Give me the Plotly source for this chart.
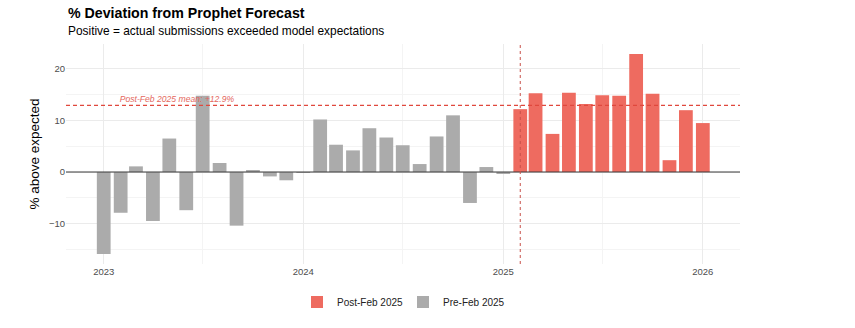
import plotly.graph_objects as go
import pandas as pd

months = pd.date_range("2023-01-01", "2026-01-01", freq="MS")
deviation = [
    -15.9, -7.9, 1.1, -9.5, 6.5, -7.4, 14.8, 1.75, -10.4, 0.4, -0.85, -1.6,
    -0.15, 10.2, 5.3, 4.2, 8.5, 6.7, 5.2, 1.55, 6.9, 11.0, -6.0, 0.97,
    -0.2, 12.2, 15.3, 7.4, 15.4, 13.2, 14.9, 14.8, 22.9, 15.2, 2.3, 12.0,
    9.5,
]
cutoff = pd.Timestamp("2025-02-01")
period = ["Post-Feb 2025" if m >= cutoff else "Pre-Feb 2025" for m in months]
post_vals = [v for v, p in zip(deviation, period) if p == "Post-Feb 2025"]
post_mean = sum(post_vals) / len(post_vals)

RED = "#EE6B60"
GREY = "#ABABAB"
bar_width_ms = 25.2 * 86400000

fig = go.Figure()

# annotation text first so bars draw on top of it
fig.add_trace(go.Scatter(
    x=[pd.Timestamp("2023-05-15")], y=[post_mean + 1.05],
    mode="text", text=[f"Post-Feb 2025 mean: +{post_mean:.1f}%"],
    textfont=dict(size=8.6, color="#E4675D", family="Liberation Sans", style="italic"),
    showlegend=False, hoverinfo="skip",
))

for name, color in [("Post-Feb 2025", RED), ("Pre-Feb 2025", GREY)]:
    xs = [m for m, p in zip(months, period) if p == name]
    ys = [v for v, p in zip(deviation, period) if p == name]
    fig.add_trace(go.Bar(
        x=xs, y=ys, name=name, marker=dict(color=color, line=dict(width=0)),
        width=bar_width_ms,
    ))

# reference lines
fig.add_shape(type="line", xref="x domain", yref="y", x0=0, x1=1, y0=0, y1=0,
              line=dict(color="#3A3A3A", width=1.1))
fig.add_shape(type="line", xref="x domain", yref="y", x0=0, x1=1,
              y0=post_mean, y1=post_mean,
              line=dict(color="#E0483D", width=1.2, dash="4px,3px"))
fig.add_shape(type="line", xref="x", yref="y domain", x0=cutoff, x1=cutoff,
              y0=0, y1=1, line=dict(color="#C8504A", width=1, dash="3px,3px"))

fig.add_annotation(text="<b>% Deviation from Prophet Forecast</b>", xref="paper", yref="paper",
                   x=0, y=1.141, xanchor="left", yanchor="middle", showarrow=False,
                   font=dict(size=14.2, color="#000000", family="Liberation Sans"))
fig.add_annotation(text="Positive = actual submissions exceeded model expectations",
                   xref="paper", yref="paper", x=0, y=1.059, xanchor="left",
                   yanchor="middle", showarrow=False,
                   font=dict(size=11.9, color="#000000", family="Liberation Sans"))

fig.update_layout(
    width=855, height=328,
    margin=dict(l=66, r=115, t=44, b=64),
    plot_bgcolor="white", paper_bgcolor="white",
    font=dict(family="Liberation Sans", color="#4D4D4D"),
    barmode="overlay",
    showlegend=True,
    legend=dict(orientation="h", x=0.5, xanchor="center", y=-0.173, yanchor="middle",
                font=dict(size=10, color="#222222"), itemsizing="constant",
                entrywidth=61, entrywidthmode="pixels"),
)
fig.update_xaxes(
    range=[pd.Timestamp("2022-10-24"), pd.Timestamp("2026-03-10")],
    tickvals=[pd.Timestamp(f"{y}-01-01") for y in range(2023, 2027)],
    ticktext=["2023", "2024", "2025", "2026"],
    showgrid=True, gridcolor="#EBEBEB", gridwidth=1,
    minor=dict(showgrid=True, gridcolor="#F4F4F4", gridwidth=0.6,
               tickvals=[pd.Timestamp(f"{y}-07-01") for y in range(2022, 2026)]),
    zeroline=False, showline=False, ticks="",
    tickfont=dict(size=9.5, color="#4D4D4D"),
)
fig.update_yaxes(
    range=[-17.84, 24.84],
    tickvals=[-10, 0, 10, 20],
    showgrid=True, gridcolor="#EBEBEB", gridwidth=1,
    minor=dict(showgrid=True, gridcolor="#F4F4F4", gridwidth=0.6,
               tickvals=[-15, -5, 5, 15]),
    zeroline=False, showline=False, ticks="",
    tickfont=dict(size=9.5, color="#4D4D4D"),
    title=dict(text="% above expected", font=dict(size=13.5, color="#000000"), standoff=6),
)

fig.write_html("out.html")
